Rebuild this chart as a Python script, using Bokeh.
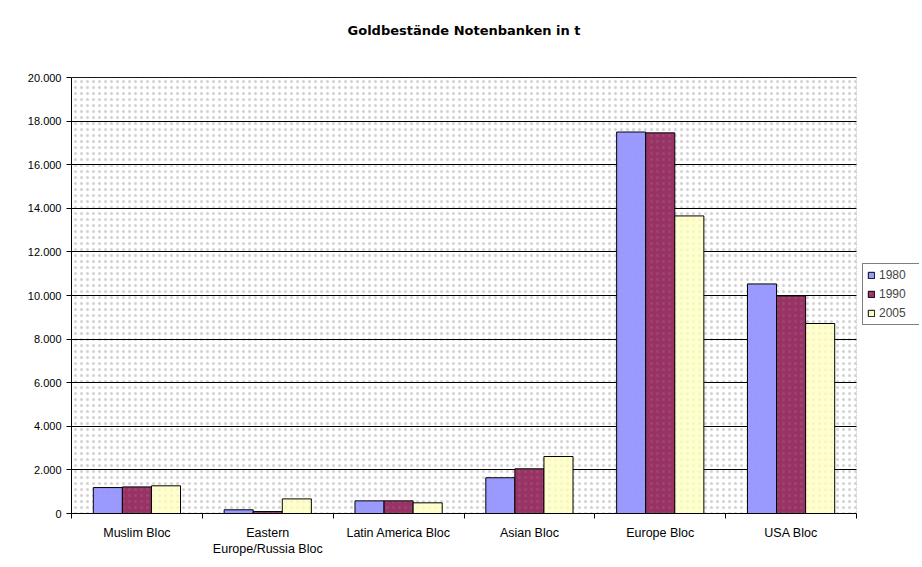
from bokeh.plotting import figure
from bokeh.models import (ColumnDataSource, Range1d, FixedTicker, Legend, LegendItem,
                          BoxAnnotation, Label, LinearAxis)
from bokeh.transform import dodge
from bokeh.embed import file_html
from bokeh.resources import INLINE

categories = ["Muslim Bloc", "Eastern\nEurope/Russia Bloc", "Latin America Bloc",
              "Asian Bloc", "Europe Bloc", "USA Bloc"]
years = ["1980", "1990", "2005"]
v1980 = [1190, 170, 580, 1640, 17500, 10530]
v1990 = [1220, 90, 580, 2050, 17460, 9980]
v2005 = [1270, 670, 490, 2615, 13650, 8715]
y_ticks = [0, 2000, 4000, 6000, 8000, 10000, 12000, 14000, 16000, 18000, 20000]
y_tick_labels = ["0", "2.000", "4.000", "6.000", "8.000", "10.000", "12.000",
                 "14.000", "16.000", "18.000", "20.000"]
title_text = "Goldbestände Notenbanken in t"

colors = ["#9999FF", "#993366", "#FFFFCC"]

# layout (pixels)
W, H = 920, 560
LEFT, RIGHT_BORDER, TOP_BORDER, BOTTOM = 71, 1, 1, 47
PLOT_W_PX, PLOT_H_PX = 785, 436     # size of the area holding the bars
PLOT_TOP_PX = 77                     # top of that area on the page
TITLE_Y_PX = 30                      # centre of the title on the page
ncat = len(categories)
ymax = y_ticks[-1]
frame_w = W - LEFT - RIGHT_BORDER
frame_h = H - TOP_BORDER - BOTTOM
x_end = ncat * frame_w / PLOT_W_PX
y_end = ymax * frame_h / PLOT_H_PX
title_y = ymax + (PLOT_TOP_PX - TITLE_Y_PX) * ymax / PLOT_H_PX

xpos = [i + 0.5 for i in range(ncat)]
source = ColumnDataSource(data=dict(x=xpos, v1980=v1980, v1990=v1990, v2005=v2005))

p = figure(width=W, height=H, output_backend="svg", toolbar_location=None,
           x_range=Range1d(0, x_end), y_range=Range1d(0, y_end),
           x_axis_location=None, y_axis_location=None,
           min_border_left=LEFT, min_border_right=RIGHT_BORDER,
           min_border_top=TOP_BORDER, min_border_bottom=BOTTOM)

p.background_fill_color = "white"
p.border_fill_color = "white"
p.outline_line_color = None

bg = BoxAnnotation(left=0, right=ncat, bottom=0, top=ymax,
                   fill_color="white", fill_alpha=0.0, line_color=None,
                   hatch_pattern="dot", hatch_color="#d2d2d2", hatch_scale=6,
                   hatch_weight=0.3, hatch_alpha=1.0, level="image")
p.add_layout(bg)

frame_box = BoxAnnotation(left=0, right=ncat, bottom=0, top=ymax,
                          fill_alpha=0.0, line_color="#808080", line_dash="2 1",
                          line_width=1, level="underlay")
p.add_layout(frame_box)

# axes
yaxis = LinearAxis(ticker=FixedTicker(ticks=y_ticks, minor_ticks=[]), bounds=(0, ymax))
yaxis.major_label_overrides = {t: l for t, l in zip(y_ticks, y_tick_labels)}
yaxis.axis_line_color = "black"
yaxis.major_tick_line_color = "black"
yaxis.major_tick_out = 5
yaxis.major_tick_in = 0
yaxis.minor_tick_line_color = None
yaxis.major_label_standoff = 5
yaxis.major_label_text_font = "Liberation Sans"
yaxis.major_label_text_font_size = "11px"
yaxis.major_label_text_color = "black"
p.add_layout(yaxis, "left")

bounds = list(range(ncat + 1))
xaxis = LinearAxis(ticker=FixedTicker(ticks=xpos, minor_ticks=bounds), bounds=(0, ncat))
xaxis.major_label_overrides = {x: c for x, c in zip(xpos, categories)}
xaxis.axis_line_color = "black"
xaxis.major_tick_line_color = None
xaxis.minor_tick_line_color = "black"
xaxis.minor_tick_out = 5
xaxis.minor_tick_in = 0
xaxis.major_label_standoff = 6
xaxis.major_label_text_font = "Liberation Sans"
xaxis.major_label_text_font_size = "12.5px"
xaxis.major_label_text_color = "black"
p.add_layout(xaxis, "below")

p.xgrid.visible = False
p.ygrid.ticker = FixedTicker(ticks=y_ticks)
p.ygrid.cross_bounds = (0, ncat)
p.ygrid.grid_line_color = "black"
p.ygrid.grid_line_width = 1

w = 0.2222
renderers = []
for i, (yr, col) in enumerate(zip(years, colors)):
    r = p.vbar(x=dodge("x", (i - 1) * w, range=p.x_range), top="v" + yr, width=w,
               bottom=0, source=source, fill_color=col, line_color="black", line_width=1,
               hatch_pattern="dot", hatch_color="#b0b0b0", hatch_scale=6,
               hatch_weight=0.3, hatch_alpha=0.15)
    renderers.append(r)

legend = Legend(items=[LegendItem(label=yr, renderers=[r]) for yr, r in zip(years, renderers)],
                location=(791, 188))
legend.border_line_color = "black"
legend.border_line_width = 1
legend.background_fill_color = "white"
legend.background_fill_alpha = 1.0
legend.glyph_width = 8
legend.glyph_height = 8
legend.label_height = 14
legend.label_width = 36
legend.spacing = 5
legend.padding = 4
legend.label_standoff = 4
legend.label_text_font = "Liberation Sans"
legend.label_text_font_size = "12px"
legend.margin = 0
p.add_layout(legend, "center")

title = Label(x=ncat / 2, y=title_y, text=title_text, text_align="center",
              text_baseline="middle", text_font="DejaVu Sans", text_font_size="13px",
              text_font_style="bold", text_color="black")
p.add_layout(title)

open("out.html", "w").write(file_html(p, INLINE))
